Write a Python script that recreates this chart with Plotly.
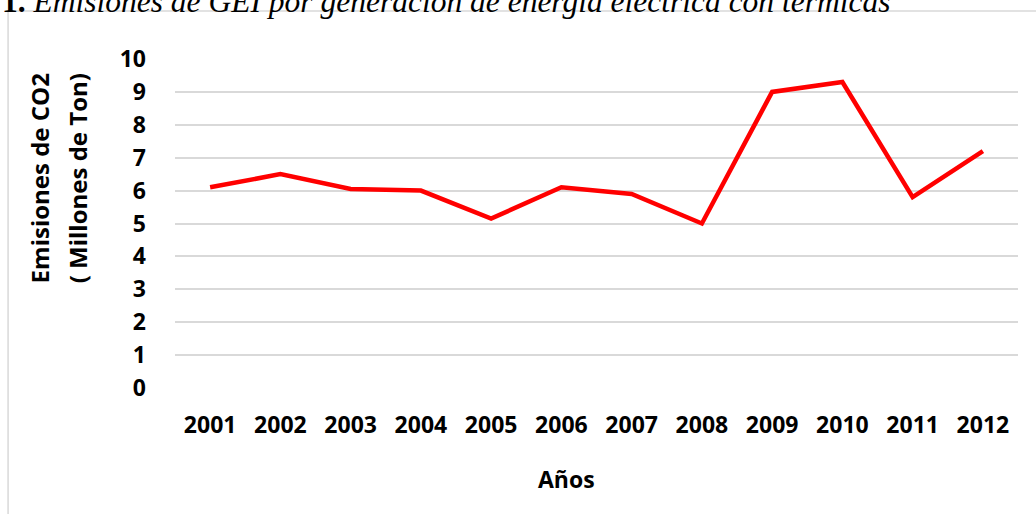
"""Emisiones de CO2 por generación térmica, 2001-2012."""

import plotly.graph_objects as go

years = ["2001", "2002", "2003", "2004", "2005", "2006",
         "2007", "2008", "2009", "2010", "2011", "2012"]
emisiones = [6.1, 6.5, 6.05, 6.0, 5.15, 6.1, 5.9, 5.0, 9.0, 9.3, 5.8, 7.2]
y_ticks = list(range(0, 11))

FONT = "Open Sans"
GRID = "#d9d9d9"

fig = go.Figure()

fig.add_trace(
    go.Scatter(
        x=years,
        y=emisiones,
        mode="lines",
        line=dict(color="#ff0000", width=4.5),
        showlegend=False,
        cliponaxis=False,
    )
)

# Frame of the chart area (only top and left edges are visible)
fig.add_shape(
    type="rect", xref="paper", yref="paper",
    x0=-0.198, x1=1.2, y0=-0.6, y1=1.146,
    line=dict(color=GRID, width=1.5),
    layer="below",
)

# Caption, cut at the top of the picture like in the original
fig.add_annotation(
    text="<b>1.</b> <i>Emisiones de GEI por generación de energía eléctrica con térmicas</i>",
    xref="paper", yref="paper", x=-0.208, y=1.175,
    xanchor="left", yanchor="middle", showarrow=False,
    font=dict(family="Liberation Serif", size=31.5, color="#000000"),
)

# Y axis title, two lines
fig.add_annotation(
    text="<b>Emisiones de CO2</b>",
    xref="paper", yref="paper", x=-0.161, y=0.638,
    xanchor="center", yanchor="middle", textangle=-90, showarrow=False,
    font=dict(family=FONT, size=24, color="#000000"),
)
fig.add_annotation(
    text="<b>( Millones de Ton)</b>",
    xref="paper", yref="paper", x=-0.116, y=0.638,
    xanchor="center", yanchor="middle", textangle=-90, showarrow=False,
    font=dict(family=FONT, size=24, color="#000000"),
)

# X axis title
fig.add_annotation(
    text="<b>Años</b>",
    xref="paper", yref="paper", x=0.465, y=-0.277,
    xanchor="center", yanchor="middle", showarrow=False,
    font=dict(family=FONT, size=23, color="#000000"),
)

fig.update_xaxes(
    type="category",
    range=[-0.5, len(years) - 0.5],
    showgrid=False,
    showline=False,
    ticks="",
    ticklabelstandoff=21,
    tickfont=dict(family=FONT, size=23, color="#000000", weight="bold"),
)
fig.update_yaxes(
    range=[0, 10],
    tickvals=y_ticks,
    showgrid=True,
    gridcolor=GRID,
    gridwidth=1.5,
    zeroline=False,
    showline=False,
    ticks="",
    ticklabelstandoff=28,
    tickfont=dict(family=FONT, size=23, color="#000000", weight="bold"),
)

fig.update_layout(
    width=1036,
    height=514,
    margin=dict(l=175, r=18, t=59, b=126),
    paper_bgcolor="#ffffff",
    plot_bgcolor="#ffffff",
)

# drop the default page margin so the figure sits at the window's corner
fig.write_html(
    "out.html",
    config={"displayModeBar": False},
    post_script="document.body.style.margin='0';",
)
